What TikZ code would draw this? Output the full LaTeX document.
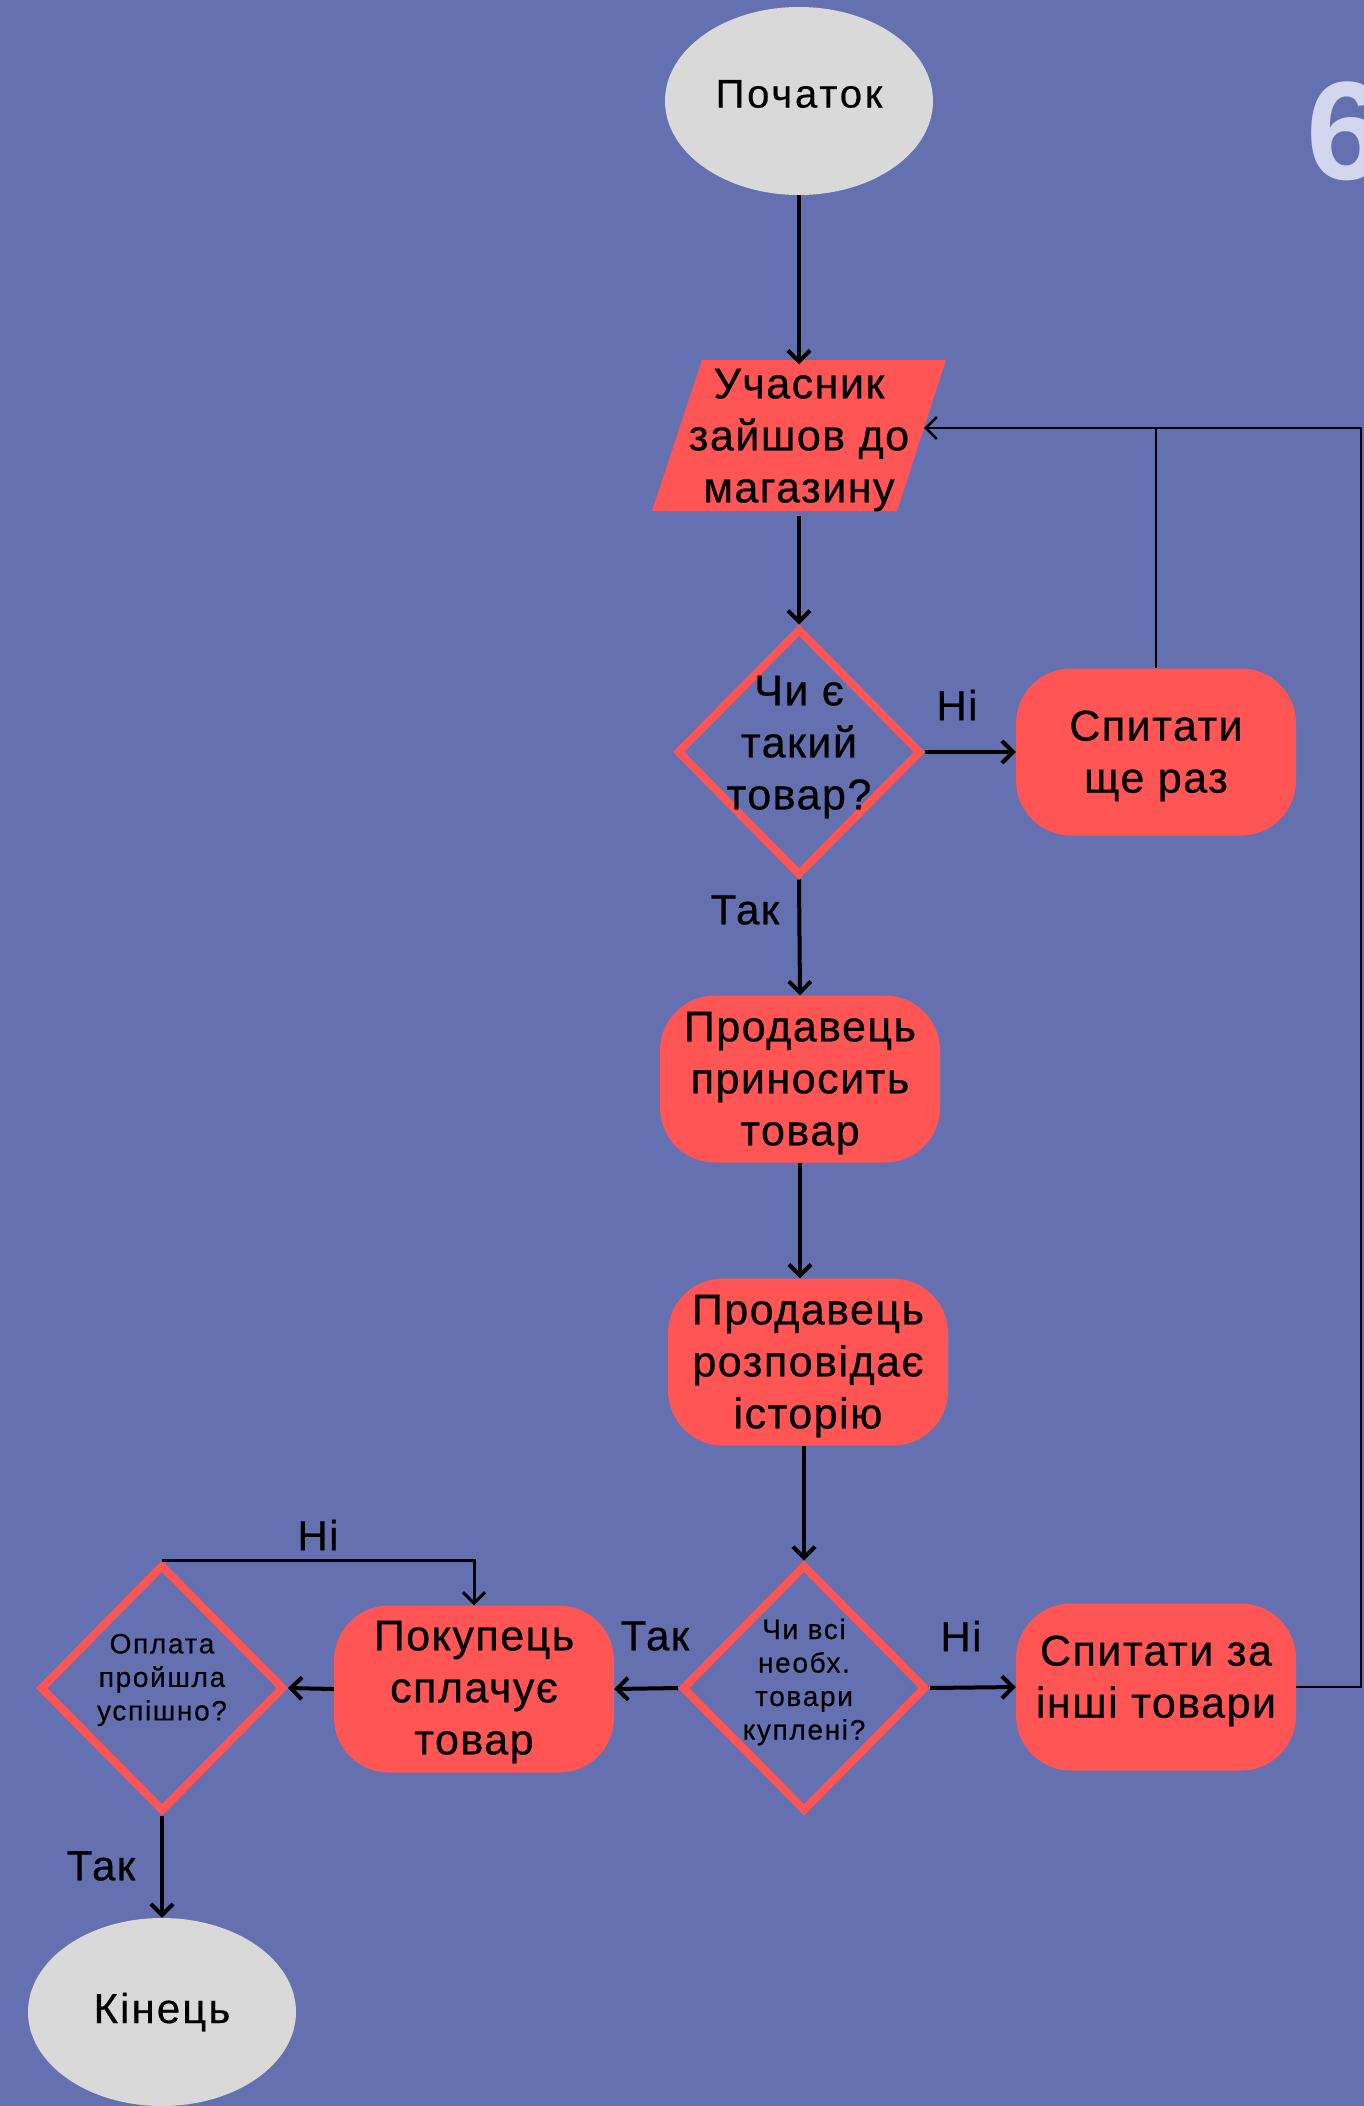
\documentclass[tikz,border=0pt]{standalone}
\usepackage{fontspec}
\setmainfont{Liberation Sans}
\newfontfamily\boxfont[LetterSpace=3.5,FakeBold=0.6]{Liberation Sans}
\newfontfamily\startfont[LetterSpace=7,FakeBold=0.4]{Liberation Sans}
\newfontfamily\endfont[LetterSpace=5,FakeBold=0.4]{Liberation Sans}
\newfontfamily\smallfont[LetterSpace=6,FakeBold=0.4]{Liberation Sans}
\newfontfamily\numfont{Liberation Sans}
\usetikzlibrary{shapes.geometric,arrows.meta}
\definecolor{bg}{HTML}{6470AF}
\definecolor{rd}{HTML}{FF5555}
\definecolor{gr}{HTML}{D9D9D9}
\definecolor{six}{HTML}{D2D6EE}
\begin{document}
\begin{tikzpicture}[x=1pt,y=-1pt,
 term/.style={ellipse, fill=gr, minimum width=268pt, minimum height=188pt, inner sep=0pt},
 ttxt/.style={inner sep=0pt, font=\startfont\fontsize{40}{46}\selectfont},
 etxt/.style={inner sep=0pt, font=\endfont\fontsize{42}{46}\selectfont},
 proc/.style={rectangle, rounded corners=55pt, fill=rd, minimum width=280pt, minimum height=167pt, inner sep=0pt},
 bigtxt/.style={align=center, inner sep=0pt, font=\boxfont\fontsize{43}{52}\selectfont},
 dia/.style={diamond, draw=rd, line width=8pt, minimum width=244pt, minimum height=247pt, inner sep=0pt},
 smalltxt/.style={align=center, inner sep=0pt, font=\smallfont\fontsize{28}{33.5}\selectfont},
 lbl/.style={font=\boxfont\fontsize{42}{46}\selectfont, inner sep=0pt},
 arr/.style={line width=4pt, -{Straight Barb[length=11pt,width=22pt]}},
 fbline/.style={line width=2.5pt},
 fbarr/.style={line width=2.5pt, -{Straight Barb[length=11pt,width=22pt]}},
]
\fill[bg] (0,0) rectangle (1364,2106);
\useasboundingbox (0,0) rectangle (1364,2106);

% big number
\node[anchor=west, inner sep=0pt, text=six, font=\numfont\bfseries\fontsize{140}{140}\selectfont] (num) at (1306,131) {6};

% start
\node[term, label={[ttxt, yshift=7pt]center:Початок}] (start) at (799,101) {};

% parallelogram
\fill[rd] (702,360) -- (946,360) -- (897,511) -- (652,511) -- cycle;
\node[bigtxt, minimum width=244pt, minimum height=151pt] (par) at (799,440) {Учасник\\зайшов до\\магазину};
\coordinate (parR) at (924,428);

% decision 1
\node[dia, label={[bigtxt, yshift=5pt]center:{Чи є\\такий\\товар?}}] (d1) at (799,752) {};
\node[proc, label={[bigtxt, yshift=-4pt]center:{Спитати\\ще раз}}] (s1) at (1156,752) {};

% process boxes
\node[proc, label={[bigtxt, yshift=-4pt]center:{Продавець\\приносить\\товар}}] (p1) at (800,1079) {};
\node[proc, label={[bigtxt, yshift=-4pt]center:{Продавець\\розповідає\\історію}}] (p2) at (808,1362) {};

% decision 2
\node[dia, label={[smalltxt, yshift=6pt]center:{Чи всі\\необх.\\товари\\куплені?}}] (d2) at (804,1688) {};
\node[proc, label={[bigtxt, yshift=6pt]center:{Спитати за\\інші товари}}] (s2) at (1156,1687) {};
\node[proc, label={[bigtxt, yshift=-3pt]center:{Покупець\\сплачує\\товар}}] (pay) at (474,1689) {};

% decision 3
\node[dia, label={[smalltxt, yshift=8pt]center:{Оплата\\пройшла\\успішно?}}] (d3) at (162,1688) {};

% end
\node[term, label={[etxt]center:Кінець}] (fin) at (162,2012) {};

% corner coordinate for loop
\coordinate (rc) at (1361,428);

% connectors
\draw[arr] (start.south) -- (par.north);
\draw[arr] (par.south) -- (d1.north);
\draw[arr] (d1.east) -- (s1.west);
\draw[arr] (d1.south) -- (p1.north);
\draw[arr] (p1.south) -- (p1.south |- p2.north);
\draw[arr] (p2.south -| d2.north) -- (d2.north);
\draw[arr] (d2.east) -- (s2.west);
\draw[arr] (d2.west) -- (pay.east);
\draw[arr] (pay.west) -- (d3.east);
\draw[arr] (d3.south) -- (fin.north);
\draw[line width=3pt, -{Straight Barb[length=11pt,width=22pt]}] (d3.north) -| (pay.north);
\draw[fbarr] (s1.north) |- (parR);
\draw[fbline] (s2.east) -| (rc) -- (parR);

% labels
\node[lbl] (l1) at (957,705) {Ні};
\node[lbl] (l2) at (745,910) {Так};
\node[lbl] (l3) at (961,1636) {Ні};
\node[lbl] (l4) at (655,1636) {Так};
\node[lbl] (l5) at (318,1535) {Ні};
\node[lbl] (l6) at (101,1866) {Так};
\end{tikzpicture}
\end{document}
